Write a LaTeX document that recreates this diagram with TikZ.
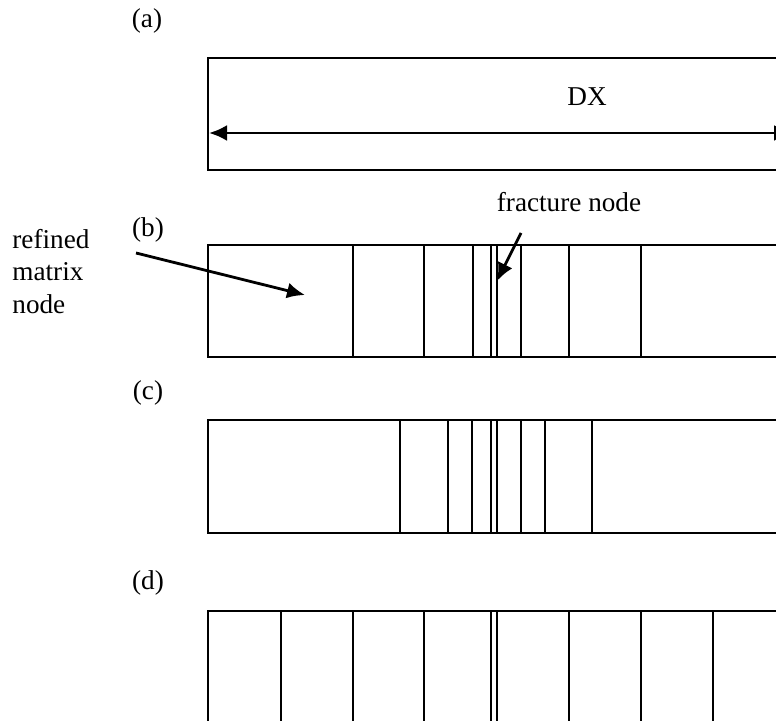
\documentclass[tikz,border=0pt]{standalone}
\usepackage{fontspec}
\setmainfont{Liberation Serif}
\usetikzlibrary{arrows.meta}

\begin{document}
\begin{tikzpicture}[
  x=0.5pt, y=-0.5pt,
  bar/.style={draw, line width=1pt},
  lbl/.style={font=\fontsize{13.6}{16.25}\selectfont, inner sep=0pt},
  ptr/.style={line width=1.4pt},
  >={Latex[length=9pt, width=8pt]}
]
\useasboundingbox (0,0) rectangle (776,721);
\clip (0,0) rectangle (776,721);

% (a) coarse grid
\node[lbl, anchor=base] (la) at (147,28) {(a)};
\draw[bar] (800,58) -- (208,58) -- (208,170) -- (800,170);
\coordinate (dxl) at (209,133);
\coordinate (dxr) at (792,133);
\draw[ptr, <->] (dxl) -- (dxr);
\node[lbl, anchor=base] (dx) at (587,106) {DX};

% (b)
\node[lbl, anchor=base] (lb) at (148,237) {(b)};
\draw[bar] (800,245) -- (208,245) -- (208,357) -- (800,357);
\foreach \x in {353,424,473,491,496.5,521,569,641}
  \draw[bar] (\x,245) -- (\x,357);
\node[lbl, anchor=north west, align=left] (refined) at (12,228.5) {refined\\matrix\\node};
\node[lbl, anchor=base] (frac) at (569,212) {fracture node};
\coordinate (mfrom) at (136,253);
\coordinate (mtip) at (305,295);
\coordinate (ffrom) at (521,233);
\coordinate (ftip) at (497,281);
\draw[ptr, ->] (mfrom) -- (mtip);
\draw[ptr, ->] (ffrom) -- (ftip);

% (c)
\node[lbl, anchor=base] (lc) at (148,400) {(c)};
\draw[bar] (800,420) -- (208,420) -- (208,533) -- (800,533);
\foreach \x in {400,448,472,491,496.5,521,545,592}
  \draw[bar] (\x,420) -- (\x,533);

% (d)
\node[lbl, anchor=base] (ld) at (148,589) {(d)};
\draw[bar] (208,740) -- (208,611) -- (800,611);
\foreach \x in {281,353,424,491,496.5,569,641,713}
  \draw[bar] (\x,611) -- (\x,740);
\end{tikzpicture}
\end{document}
